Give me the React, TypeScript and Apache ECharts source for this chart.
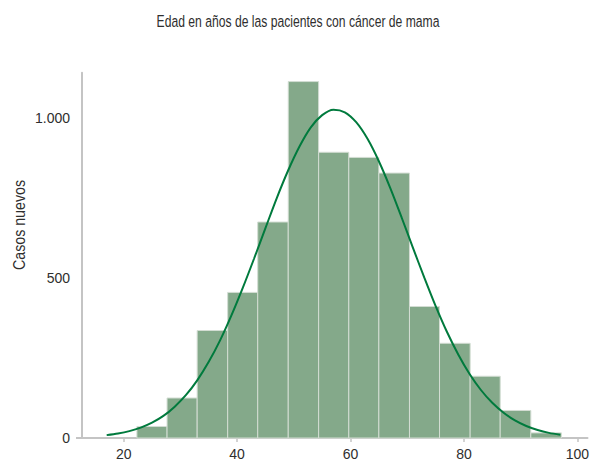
import React, { useEffect, useRef } from "react";
import * as echarts from "echarts";

const TITLE = "Edad en años de las pacientes con cáncer de mama";
const Y_NAME = "Casos nuevos";

// Histogram bin edges (years) and counts per bin
const binEdges = [22.33, 27.65, 32.96, 38.34, 43.64, 49.02, 54.38, 59.7, 65.0, 70.4, 75.7, 81.1, 86.4, 91.8, 97.2];
const binCounts = [36, 125, 336, 455, 675, 1114, 893, 877, 828, 411, 296, 193, 86, 16];

// Fitted curve points
const curveX = [17, 19, 21, 23, 25, 27, 29, 31, 33, 35, 37, 39, 41, 43, 45, 47, 49, 51, 53, 55, 57, 59, 61, 63, 65, 67, 69, 71, 73, 75, 77, 79, 81, 83, 85, 87, 89, 91, 93, 95, 97];
const curveY = [9, 14, 21.5, 32.5, 48, 69, 98, 134.5, 181, 238, 305, 383, 469, 561, 656, 750, 836, 911, 971, 1009, 1026, 1018, 987, 935, 865, 782, 690, 595, 502, 413, 332, 261, 200, 150, 110, 79, 55, 37.5, 25, 16, 10];

const xTicks = [20, 40, 60, 80, 100];
const yTicks = [0, 500, 1000];

const TICK_FONT = "'Liberation Sans', Arial, sans-serif";
const TEXT_FONT = "'Liberation Sans', Arial, sans-serif";

function measure(text: string, font: string): number {
  const c = document.createElement("canvas");
  const ctx = c.getContext("2d");
  if (!ctx) return text.length * 8;
  ctx.font = font;
  return ctx.measureText(text).width;
}

export default function App() {
  const ref = useRef<HTMLDivElement>(null);
  useEffect(() => {
    if (!ref.current) return;
    const chart = echarts.init(ref.current, null, { renderer: "svg" });
    const barData = binCounts.map((c, i) => [binEdges[i], binEdges[i + 1], c]);
    const lineData = curveX.map((x, i) => [x, curveY[i]]);
    const titleFont = `17px ${TEXT_FONT}`;
    const titleScale = 283 / measure(TITLE, titleFont);
    const nameFont = `16px ${TEXT_FONT}`;
    const nameScale = 90 / measure(Y_NAME, nameFont);
    chart.setOption({
      animation: false,
      grid: { left: 82, right: 1, top: 72.7, bottom: 21, containLabel: false },
      graphic: [
        {
          type: "text",
          x: 298,
          y: 21,
          scaleX: titleScale,
          style: {
            text: TITLE,
            fill: "#2e2e2e",
            font: titleFont,
            textAlign: "center",
            textVerticalAlign: "middle",
          },
        },
        {
          type: "text",
          x: 19,
          y: 225,
          rotation: Math.PI / 2,
          scaleX: nameScale,
          style: {
            text: Y_NAME,
            fill: "#2e2e2e",
            font: nameFont,
            textAlign: "center",
            textVerticalAlign: "middle",
          },
        },
      ],
      xAxis: {
        type: "value",
        min: 12.65,
        max: 101.8,
        axisLine: { show: true, lineStyle: { color: "#c4c4c4", width: 2 } },
        axisTick: { show: true, length: 4, customValues: xTicks, lineStyle: { color: "#c4c4c4", width: 1.5 } },
        axisLabel: {
          customValues: xTicks,
          margin: 9,
          color: "#2e2e2e",
          fontSize: 14,
          fontFamily: TICK_FONT,
        },
        splitLine: { show: false },
      },
      yAxis: {
        type: "value",
        min: 0,
        max: 1141.7,
        interval: 500,
        axisLine: { show: true, lineStyle: { color: "#c4c4c4", width: 2 } },
        axisTick: { show: true, length: 6, customValues: [0], lineStyle: { color: "#c4c4c4", width: 2 } },
        axisLabel: {
          customValues: yTicks,
          margin: 12,
          color: "#2e2e2e",
          fontSize: 14,
          fontFamily: TICK_FONT,
          formatter: (v: number) => (v === 1000 ? "1.000" : String(v)),
        },
        splitLine: {
          show: true,
          showMinLine: false,
          showMaxLine: false,
          lineStyle: { color: "#d0d0d0", width: 1.5 },
        },
      },
      series: [
        {
          type: "custom",
          z: 2,
          encode: { x: [0, 1], y: 2 },
          data: barData,
          renderItem: (params: any, api: any) => {
            const s = api.value(0);
            const e = api.value(1);
            const v = api.value(2);
            const p0 = api.coord([s, 0]);
            const p1 = api.coord([e, v]);
            return {
              type: "rect",
              shape: { x: p0[0], y: p1[1], width: p1[0] - p0[0], height: p0[1] - p1[1] },
              style: { fill: "#84a98a", stroke: "#d3ddd3", lineWidth: 1 },
            };
          },
        },
        {
          type: "line",
          z: 3,
          data: lineData,
          smooth: 0.3,
          showSymbol: false,
          symbol: "none",
          lineStyle: { color: "#007a3d", width: 2 },
        },
      ],
    });
    return () => chart.dispose();
  }, []);
  return <div ref={ref} style={{ position: "absolute", left: 0, top: 0, width: 592, height: 461 }} />;
}
